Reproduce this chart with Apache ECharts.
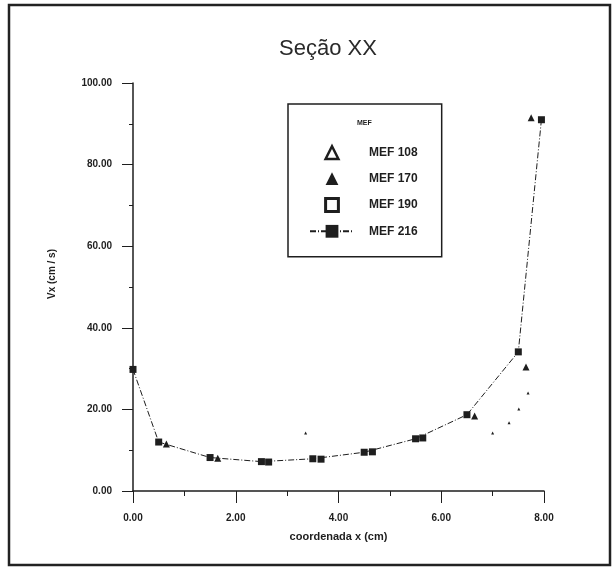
<!DOCTYPE html>
<html>
<head>
<meta charset="utf-8">
<script src="https://cdn.jsdelivr.net/npm/echarts@6/dist/echarts.min.js"></script>
<style>
html,body{margin:0;padding:0;background:#fff;}
#main{width:615px;height:569px;}
</style>
</head>
<body>
<div id="main"></div>
<script>
// Seção XX - Vx x coordenada x
var serieNames = ['MEF 108', 'MEF 170', 'MEF 190', 'MEF 216'];

// MEF 216 (quadrado cheio, linha traço-ponto)
var mef216X = [0, 0.5, 1.5, 2.5, 3.5, 4.5, 5.5, 6.5, 7.5, 7.95];
var mef216Y = [29.8, 12.0, 8.2, 7.2, 7.9, 9.5, 12.8, 18.7, 34.1, 91.0];
// MEF 170 (triangulo cheio)
var mef170X = [0.65, 1.65, 6.65, 7.65, 7.75];
var mef170Y = [11.5, 8.0, 18.4, 30.4, 91.5];
// MEF 190 (quadrado vazado)
var mef190X = [2.64, 3.66, 4.66, 5.64];
var mef190Y = [7.1, 7.8, 9.6, 13.0];
// MEF 108 (triangulo vazado)
var mef108X = [3.36, 7.0, 7.32, 7.51, 7.69];
var mef108Y = [14.2, 14.2, 16.7, 20.1, 24.0];

var xTicks = [0, 2, 4, 6, 8];
var yTicks = [0, 20, 40, 60, 80, 100];

function pares(xs, ys){
	var r = [];
	for(var i = 0; i < xs.length; i++){
		r.push([xs[i], ys[i]]);
	}
	return r;
}

var myChart = echarts.init(document.getElementById('main'));
var fonte = 'Liberation Sans, Arial, sans-serif';
var cor = '#1e1e1e';

var option = {
	backgroundColor: '#fff',
	animation: false,
	title: {
		text: 'Seção XX',
		left: 274,
		top: 33,
		textStyle: {fontFamily: fonte, fontSize: 22, fontWeight: 'normal', color: '#2a2a2a'}
	},
	legend: {
		left: 288,
		top: 104,
		orient: 'vertical',
		borderColor: cor,
		borderWidth: 1.5,
		padding: [41, 24, 19, 21],
		itemWidth: 44,
		itemHeight: 16,
		itemGap: 12,
		textStyle: {fontFamily: fonte, fontSize: 12, fontWeight: 'bold', color: cor, padding: [0, 0, 0, 10]},
		data: [
			{name: serieNames[0], itemStyle: {color: '#fff', borderColor: cor, borderWidth: 2.5}},
			{name: serieNames[1], itemStyle: {color: cor}},
			{name: serieNames[2], itemStyle: {color: '#fff', borderColor: cor, borderWidth: 3}},
			{name: serieNames[3], itemStyle: {color: cor}}
		]
	},
	graphic: [
		{
			type: 'text',
			left: 357,
			top: 120,
			style: {text: 'MEF', font: 'bold 7px ' + fonte, fill: cor}
		},
		{
			type: 'rect',
			shape: {x: 9, y: 5, width: 601, height: 560},
			style: {fill: 'none', stroke: '#222', lineWidth: 2.5},
			silent: true
		}
	],
	grid: {left: 133, right: 71, top: 83, bottom: 78},
	xAxis: {
		type: 'value',
		min: 0,
		max: 8,
		interval: 2,
		name: 'coordenada x (cm)',
		nameLocation: 'middle',
		nameGap: 40,
		nameTextStyle: {fontFamily: fonte, fontSize: 11, fontWeight: 'bold', color: cor},
		axisLine: {lineStyle: {color: cor, width: 1.5}},
		axisTick: {length: 12, lineStyle: {color: cor}},
		minorTick: {show: true, splitNumber: 2, length: 5, lineStyle: {color: cor}},
		splitLine: {show: false},
		axisLabel: {
			margin: 22,
			fontFamily: fonte, fontSize: 10, fontWeight: 'bold', color: cor,
			formatter: function(v){ return xTicks.indexOf(v) >= 0 ? v.toFixed(2) : ''; }
		}
	},
	yAxis: {
		type: 'value',
		min: 0,
		max: 100,
		interval: 20,
		name: 'Vx (cm / s)',
		nameLocation: 'middle',
		nameGap: 76,
		nameRotate: 90,
		nameTextStyle: {fontFamily: fonte, fontSize: 10, fontWeight: 'bold', color: cor, padding: [0, 0, 0, 26]},
		axisLine: {show: true, lineStyle: {color: cor, width: 1.5}},
		axisTick: {show: true, length: 11, lineStyle: {color: cor}},
		minorTick: {show: true, splitNumber: 2, length: 4, lineStyle: {color: cor}},
		splitLine: {show: false},
		axisLabel: {
			margin: 21,
			fontFamily: fonte, fontSize: 10, fontWeight: 'bold', color: cor,
			formatter: function(v){ return yTicks.indexOf(v) >= 0 ? v.toFixed(2) : ''; }
		}
	},
	series: [
		{
			name: serieNames[0],
			type: 'line',
			data: pares(mef108X, mef108Y),
			symbol: 'triangle',
			symbolSize: 3,
			showSymbol: true,
			lineStyle: {width: 0},
			itemStyle: {color: cor}
		},
		{
			name: serieNames[1],
			type: 'line',
			data: pares(mef170X, mef170Y),
			symbol: 'triangle',
			symbolSize: 7,
			showSymbol: true,
			lineStyle: {width: 0},
			itemStyle: {color: cor}
		},
		{
			name: serieNames[2],
			type: 'line',
			data: pares(mef190X, mef190Y),
			symbol: 'rect',
			symbolSize: 7,
			showSymbol: true,
			lineStyle: {width: 0},
			itemStyle: {color: cor}
		},
		{
			name: serieNames[3],
			type: 'line',
			data: pares(mef216X, mef216Y),
			symbol: 'rect',
			symbolSize: 7,
			showSymbol: true,
			lineStyle: {color: cor, width: 1, type: [6, 2, 1, 2]},
			itemStyle: {color: cor}
		}
	]
};
myChart.setOption(option);
</script>
</body>
</html>
